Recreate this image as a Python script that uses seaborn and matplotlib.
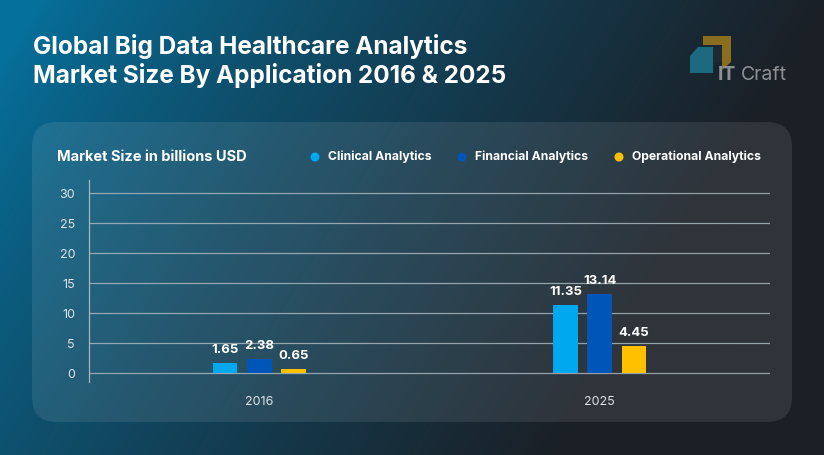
import numpy as np
import pandas as pd
import matplotlib.pyplot as plt
import seaborn as sns
from matplotlib.patches import FancyBboxPatch, Polygon, Circle

# data
years = ["2016", "2025"]
clinical = [1.65, 11.35]
financial = [2.38, 13.14]
operational = [0.65, 4.45]
series = ["Clinical Analytics", "Financial Analytics", "Operational Analytics"]
colors = ["#00a8f0", "#0055b8", "#ffc000"]

df = pd.DataFrame({
    "Year": years * 3,
    "Application": [series[0]] * 2 + [series[1]] * 2 + [series[2]] * 2,
    "Value": clinical + financial + operational,
})

sns.set_theme(style="white")
plt.rcParams["font.family"] = ["Inter", "DejaVu Sans"]

W, H = 824, 455
fig = plt.figure(figsize=(W / 100, H / 100), dpi=100)

# background gradient + panel, drawn in pixel coordinates
bg = fig.add_axes([0, 0, 1, 1])
bg.set_xlim(0, W)
bg.set_ylim(H, 0)
bg.axis("off")
xx, yy = np.meshgrid(np.linspace(0, 1, 300), np.linspace(0, 1, 170))
t = np.clip(xx * 1.05 + yy * 0.35 - 0.05, 0, 1) ** 0.8
c1 = np.array([0x06, 0x70, 0x9c]) / 255
c2 = np.array([0x1b, 0x20, 0x27]) / 255
img = c1 * (1 - t[..., None]) + c2 * t[..., None]
bg.imshow(img, extent=[0, W, H, 0], aspect="auto", zorder=0)

panel = FancyBboxPatch((32 + 25, 122 + 25), 760 - 50, 300 - 50,
                       boxstyle="round,pad=25", facecolor="white", alpha=0.09,
                       edgecolor="none", zorder=1)
bg.add_patch(panel)

# title
bg.text(33, 61, "Global Big Data Healthcare Analytics\nMarket Size By Application 2016 & 2025",
        color="white", fontsize=17.5, fontweight="bold", va="center", ha="left",
        linespacing=1.2, zorder=3)

# logo
bg.add_patch(Polygon([(703, 36), (731, 36), (731, 62), (722, 70), (722, 45), (703, 45)],
                     closed=True, facecolor="#8a6d1e", edgecolor="none", zorder=3))
bg.add_patch(Polygon([(698, 47), (713, 47), (713, 73), (690, 73), (690, 56)],
                     closed=True, facecolor="#1d6a80", edgecolor="none", zorder=3))
bg.add_patch(Polygon([(713, 47), (722, 47), (722, 62), (713, 62)],
                     closed=True, facecolor="#1e2a33", edgecolor="none", zorder=3))
bg.text(718, 75, "IT", color="#8d9196", fontsize=14, fontweight="bold",
        va="center", ha="left", zorder=3)
bg.text(741, 75, "Craft", color="#8d9196", fontsize=14, va="center", ha="left", zorder=3)

# subtitle + legend
bg.text(57, 157, "Market Size in billions USD", color="white", fontsize=10.5,
        fontweight="bold", va="center", ha="left", zorder=3)
leg_x = [315, 462, 619]
for x, name, col in zip(leg_x, series, colors):
    bg.add_patch(Circle((x, 157), 4.5, facecolor=col, edgecolor="none", zorder=3))
    bg.text(x + 13, 157, name, color="white", fontsize=8.8, fontweight="bold",
            va="center", ha="left", zorder=3)

# chart
ax = fig.add_axes([89 / W, 1 - 382 / H, (770 - 89) / W, (382 - 180) / H])
ax.set_facecolor("none")
sns.barplot(data=df, x="Year", y="Value", hue="Application", palette=colors,
            width=0.3, gap=0.28, saturation=1, linewidth=0, ax=ax,
            legend=False, zorder=3)
ax.set_xlim(-0.5, 1.5)
ax.set_ylim(-1.5, 32.2)
ax.set_yticks([0, 5, 10, 15, 20, 25, 30])
ax.set_xlabel("")
ax.set_ylabel("")
ax.grid(axis="y", color="#a8b6be", linewidth=0.9, alpha=0.85, zorder=0)
for s in ["top", "right", "bottom"]:
    ax.spines[s].set_visible(False)
ax.spines["left"].set_color("#a8b6be")
ax.spines["left"].set_linewidth(0.9)
ax.tick_params(axis="y", length=0, pad=10, labelcolor="#dde3e7", labelsize=9)
ax.tick_params(axis="x", length=0, pad=10, labelcolor="#dde3e7", labelsize=9)

for cont in ax.containers:
    ax.bar_label(cont, fmt="%.2f", padding=5, color="white", fontsize=9.5,
                 fontweight="bold", zorder=4)

fig.savefig("out.png", dpi=100)
